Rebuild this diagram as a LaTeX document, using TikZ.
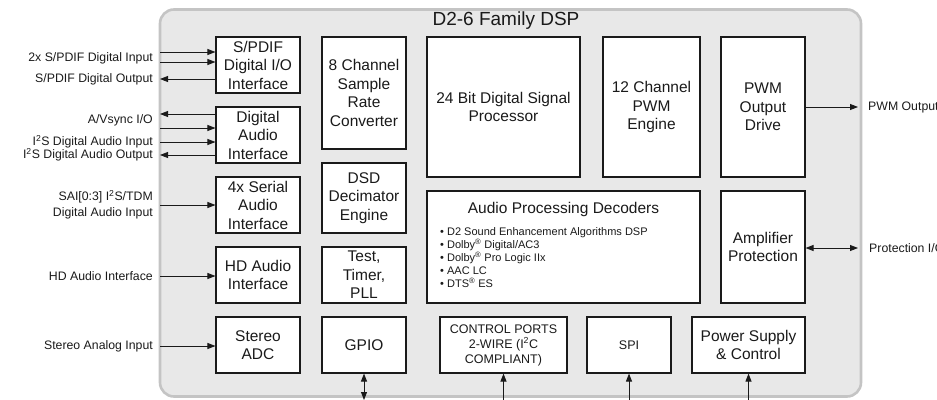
\documentclass[tikz,border=0pt]{standalone}
\usepackage{fontspec}
\setmainfont{Liberation Sans}
\usetikzlibrary{arrows.meta}
\definecolor{chipfill}{HTML}{E8E8E8}
\definecolor{chipline}{HTML}{C4C4C4}
\definecolor{ink}{HTML}{1A1A1A}
\begin{document}
\begin{tikzpicture}[x=1pt,y=-1pt,
  blk/.style={draw=ink, line width=1.1pt, fill=white, inner sep=0pt, align=center,
    font=\fontsize{15.5}{18.5}\selectfont, text=ink},
  sblk/.style={blk, font=\fontsize{12.5}{15}\selectfont},
  lbl/.style={font=\fontsize{12.3}{16}\selectfont, text=ink, inner sep=0pt},
  arr/.style={-{Triangle[length=8pt,width=6pt]}, line width=0.9pt, draw=ink},
  darr/.style={{Triangle[length=8pt,width=6pt]}-{Triangle[length=8pt,width=6pt]}, line width=0.9pt, draw=ink}
]
\useasboundingbox (0,0) rectangle (937,399);
% chip outline
\draw[rounded corners=14pt, draw=chipline, line width=2.6pt, fill=chipfill] (160,9.5) rectangle (861,396.5);
\node[font=\fontsize{19}{22}\selectfont, text=ink] (title) at (506,21) {D2-6 Family DSP};

% column 1
\node[blk, minimum width=84pt, minimum height=56pt] (spdif) at (258,65) {S/PDIF\\Digital I/O\\Interface};
\node[blk, minimum width=84pt, minimum height=56pt] (dai) at (258,135) {Digital\\Audio\\Interface};
\node[blk, minimum width=84pt, minimum height=56pt] (sai) at (258,205) {4x Serial\\Audio\\Interface};
\node[blk, minimum width=84pt, minimum height=56pt] (hda) at (258,275) {HD Audio\\Interface};
\node[blk, minimum width=84pt, minimum height=56pt] (adc) at (258,345) {Stereo\\ADC};
% column 2
\node[blk, minimum width=84pt, minimum height=112pt] (src) at (364,93) {8 Channel\\Sample\\Rate\\Converter};
\node[blk, minimum width=84pt, minimum height=70pt] (dsd) at (364,198) {DSD\\Decimator\\Engine};
\node[blk, minimum width=84pt, minimum height=56pt] (ttp) at (364,275) {Test,\\Timer,\\PLL};
\node[blk, minimum width=84pt, minimum height=56pt] (gpio) at (364,345) {GPIO};
% top row
\node[blk, minimum width=153pt, minimum height=140pt] (dsp) at (503.5,107) {24 Bit Digital Signal\\Processor};
\node[blk, minimum width=97pt, minimum height=140pt] (pwm) at (651.5,107) {12 Channel\\PWM\\Engine};
\node[blk, minimum width=84pt, minimum height=140pt] (pod) at (763,107) {PWM\\Output\\Drive};
% middle row
\node[blk, minimum width=273pt, minimum height=112pt] (apd) at (563.5,247) {};
\node[font=\fontsize{15.5}{18.5}\selectfont, text=ink] (apdt) at (563.5,209) {Audio Processing Decoders};
\node[anchor=west, align=left, inner sep=0pt, text=ink, font=\fontsize{11}{13}\selectfont] (apdl) at (440,258)
  {\textbullet\ D2 Sound Enhancement Algorithms DSP\\
   \textbullet\ Dolby\textsuperscript{\textregistered} Digital/AC3\\
   \textbullet\ Dolby\textsuperscript{\textregistered} Pro Logic IIx\\
   \textbullet\ AAC LC\\
   \textbullet\ DTS\textsuperscript{\textregistered} ES};
\node[blk, minimum width=84pt, minimum height=112pt] (amp) at (763,247) {Amplifier\\Protection};
% bottom row
\node[sblk, minimum width=127pt, minimum height=56pt] (ctl) at (503.5,345) {CONTROL PORTS\\2-WIRE (I\textsuperscript{2}C\\COMPLIANT)};
\node[sblk, minimum width=84pt, minimum height=56pt] (spi) at (629,345) {SPI};
\node[blk, minimum width=113pt, minimum height=56pt] (pwr) at (748.5,345) {Power Supply\\\& Control};

% left side connectors
\coordinate (l1) at (160,52);
\coordinate (l2) at (160,62);
\coordinate (l3) at (160,79);
\coordinate (l4) at (160,114);
\coordinate (l5) at (160,128);
\coordinate (l6) at (160,142);
\coordinate (l7) at (160,155);
\coordinate (l8) at (160,205);
\coordinate (l9) at (160,276);
\coordinate (l10) at (160,346);
\draw[arr] (l1) -- (l1 -| spdif.west);
\draw[arr] (l2) -- (l2 -| spdif.west);
\draw[arr] (l3 -| spdif.west) -- (l3);
\draw[arr] (l4 -| dai.west) -- (l4);
\draw[arr] (l5) -- (l5 -| dai.west);
\draw[arr] (l6) -- (l6 -| dai.west);
\draw[arr] (l7 -| dai.west) -- (l7);
\draw[arr] (l8) -- (l8 -| sai.west);
\draw[arr] (l9) -- (l9 -| hda.west);
\draw[arr] (l10) -- (l10 -| adc.west);

% left labels
\node[lbl, anchor=east] (t1) at (153,58) {2x S/PDIF Digital Input};
\node[lbl, anchor=east] (t2) at (153,79) {S/PDIF Digital Output};
\node[lbl, anchor=east] (t3) at (153,120) {A/Vsync I/O};
\node[lbl, anchor=east] (t4) at (153,142) {I\textsuperscript{2}S Digital Audio Input};
\node[lbl, anchor=east] (t5) at (153,155) {I\textsuperscript{2}S Digital Audio Output};
\node[lbl, anchor=east, align=right] (t6) at (153,205) {SAI[0:3] I\textsuperscript{2}S/TDM\\Digital Audio Input};
\node[lbl, anchor=east] (t7) at (153,276) {HD Audio Interface};
\node[lbl, anchor=east] (t8) at (153,346) {Stereo Analog Input};

% right side
\coordinate (r1) at (858,107);
\coordinate (r2) at (858,248);
\draw[arr] (pod.east |- r1) -- (r1);
\draw[darr] (amp.east |- r2) -- (r2);
\node[lbl, anchor=west] (t9) at (868,107) {PWM Output};
\node[lbl, anchor=west] (t10) at (869,248) {Protection I/O};

% bottom connectors
\coordinate (b1) at (364,400);
\coordinate (b2) at (503.5,406);
\coordinate (b3) at (629,406);
\coordinate (b4) at (748.5,406);
\draw[darr] (gpio.south) -- (b1);
\draw[arr] (b2) -- (ctl.south);
\draw[arr] (b3) -- (spi.south);
\draw[arr] (b4) -- (pwr.south);
\end{tikzpicture}
\end{document}
